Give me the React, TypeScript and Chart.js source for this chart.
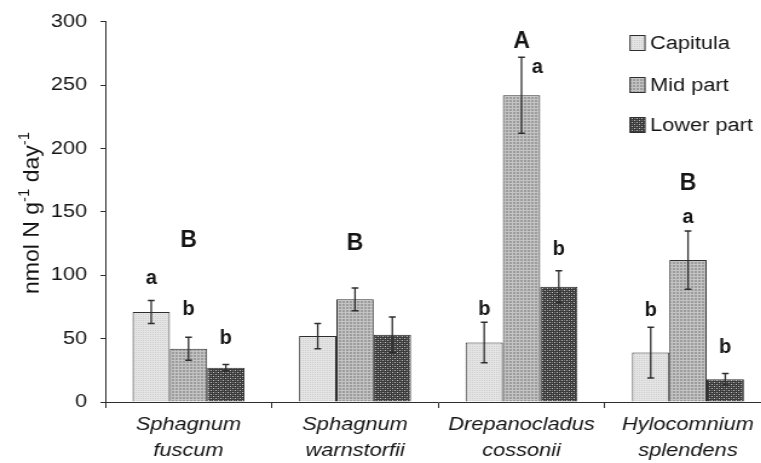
import React, { useEffect, useRef } from "react";
import { Chart, registerables } from "chart.js";

Chart.register(...registerables);

// ---- data ----
const categories = [
  ["Sphagnum", "fuscum"],
  ["Sphagnum", "warnstorfii"],
  ["Drepanocladus", "cossonii"],
  ["Hylocomnium", "splendens"],
];
const seriesNames = ["Capitula", "Mid part", "Lower part"];
const capitula = [71, 52, 47, 39];
const capitulaErr = [9, 10, 16, 20];
const midPart = [42, 81, 242, 112];
const midPartErr = [9, 9, 30, 23];
const lowerPart = [27, 53, 91, 18];
const lowerPartErr = [2.5, 14, 12.5, 4.5];
const capitulaLetters = ["a", "", "b", "b"];
const midPartLetters = ["b", "", "a", "a"];
const lowerPartLetters = ["b", "", "b", "b"];
const groupLetters = ["B", "B", "A", "B"];
const groupLetterLevel = [129, 127, 286, 174];
const yMin = 0;
const yMax = 300;
const yStep = 50;
const yTitle = ["nmol N g", "-1", " day", "-1"];

// ---- annotation layout (pixels) ----
const letterLift = [
  [22, 0, 15, 19],
  [30, 0, -10, 13],
  [28, 0, 23, 28],
];
const letterShift = [
  [0, 0, 0, 0],
  [0, 0, 13, 0],
  [0, 0, 0, 0],
];

const S = 1.21; // horizontal stretch of the original figure
const W = 650;
const H = 463;
const FONT = "'Liberation Sans', Arial, Helvetica, sans-serif";
const TEXT = "#141414";
const LINE = "#2e2e2e";

function makePattern(kind: number): CanvasPattern | string {
  const c = document.createElement("canvas");
  const ctx = c.getContext("2d");
  if (!ctx) return "#999";
  if (kind === 0) {
    c.width = 2; c.height = 2;
    ctx.fillStyle = "#e4e4e4"; ctx.fillRect(0, 0, 2, 2);
    ctx.fillStyle = "#cfcfcf"; ctx.fillRect(0, 0, 1, 1);
  } else if (kind === 1) {
    c.width = 3; c.height = 3;
    ctx.fillStyle = "#9c9c9c"; ctx.fillRect(0, 0, 3, 3);
    ctx.fillStyle = "#c4c4c4"; ctx.fillRect(0, 0, 1, 3); ctx.fillRect(0, 0, 3, 1);
  } else {
    c.width = 4; c.height = 4;
    ctx.fillStyle = "#3a3a3a"; ctx.fillRect(0, 0, 4, 4);
    ctx.fillStyle = "#c4c4c4"; ctx.fillRect(0, 0, 1, 1); ctx.fillRect(2, 2, 1, 1);
    ctx.fillStyle = "#777777"; ctx.fillRect(2, 0, 1, 1); ctx.fillRect(0, 2, 1, 1);
  }
  return ctx.createPattern(c, "repeat") || "#999";
}

export default function App() {
  const ref = useRef<HTMLCanvasElement | null>(null);

  useEffect(() => {
    if (!ref.current) return;
    const fills = [makePattern(0), makePattern(1), makePattern(2)];
    const values = [capitula, midPart, lowerPart];
    const errs = [capitulaErr, midPartErr, lowerPartErr];
    const letters = [capitulaLetters, midPartLetters, lowerPartLetters];

    const overlay = {
      id: "overlay",
      afterDatasetsDraw(chart: any) {
        const ctx = chart.ctx;
        const y = chart.scales.y;
        // error bars
        ctx.save();
        ctx.strokeStyle = LINE;
        for (let i = 0; i < values.length; i++) {
          const meta = chart.getDatasetMeta(i);
          meta.data.forEach((bar: any, j: number) => {
            const v = values[i][j];
            const e = errs[i][j];
            const yt = y.getPixelForValue(v + e);
            const yb = y.getPixelForValue(v - e);
            ctx.lineWidth = 1.3;
            ctx.beginPath();
            ctx.moveTo(bar.x, yt);
            ctx.lineTo(bar.x, yb);
            ctx.stroke();
            ctx.lineWidth = 1.5;
            ctx.beginPath();
            ctx.moveTo(bar.x - 2.8, yt); ctx.lineTo(bar.x + 2.8, yt);
            ctx.moveTo(bar.x - 2.8, yb); ctx.lineTo(bar.x + 2.8, yb);
            ctx.stroke();
          });
        }
        ctx.restore();

        // significance letters
        const drawLetter = (txt: string, cx: number, cy: number, size: number) => {
          ctx.save();
          ctx.font = `bold ${size}px ${FONT}`;
          ctx.fillStyle = TEXT;
          ctx.textAlign = "center";
          ctx.textBaseline = "alphabetic";
          const m = ctx.measureText(txt);
          const asc = m.actualBoundingBoxAscent || size * 0.7;
          ctx.translate(cx, cy);
          ctx.scale(1 / S, 1);
          ctx.fillText(txt, 0, asc / 2);
          ctx.restore();
        };
        for (let i = 0; i < values.length; i++) {
          const meta = chart.getDatasetMeta(i);
          meta.data.forEach((bar: any, j: number) => {
            const t = letters[i][j];
            if (!t) return;
            const yt = y.getPixelForValue(values[i][j] + errs[i][j]);
            drawLetter(t, bar.x + letterShift[i][j], yt - letterLift[i][j], 20);
          });
        }
        const xs = chart.scales.x;
        groupLetters.forEach((t, j) => {
          drawLetter(t, xs.getPixelForValue(j), y.getPixelForValue(groupLetterLevel[j]), 23);
        });
      },
      afterDraw(chart: any) {
        const ctx = chart.ctx;
        const area = chart.chartArea;
        // legend
        ctx.save();
        const lx = 630 / S;
        const rows = [43, 85, 125];
        seriesNames.forEach((name, i) => {
          const cy = rows[i];
          ctx.fillStyle = fills[i];
          ctx.fillRect(lx, cy - 7.5, 15 / S, 15);
          ctx.strokeStyle = LINE;
          ctx.lineWidth = 1;
          ctx.strokeRect(lx, cy - 7.5, 15 / S, 15);
          ctx.fillStyle = TEXT;
          ctx.font = `18px ${FONT}`;
          ctx.textAlign = "left";
          ctx.textBaseline = "middle";
          ctx.fillText(name, 650 / S, cy + 1);
        });
        ctx.restore();

        // y title with superscripts
        ctx.save();
        const main = 23;
        const sup = 15;
        const pieces = yTitle.map((t, k) => ({ t, sup: k % 2 === 1 }));
        let total = 0;
        const widths = pieces.map((p) => {
          ctx.font = `${p.sup ? sup : main}px ${FONT}`;
          const w = ctx.measureText(p.t).width;
          total += w;
          return w;
        });
        const cy = (area.top + area.bottom) / 2 + 1;
        ctx.translate(31 / S, cy);
        ctx.scale(1 / S, 1);
        ctx.rotate(-Math.PI / 2);
        ctx.fillStyle = TEXT;
        ctx.textAlign = "left";
        ctx.textBaseline = "alphabetic";
        let x = -total / 2;
        const base = main * 0.35;
        pieces.forEach((p, k) => {
          ctx.font = `${p.sup ? sup : main}px ${FONT}`;
          ctx.fillText(p.t, x, p.sup ? base - main * 0.42 : base);
          x += widths[k];
        });
        ctx.restore();
      },
    };

    const chart = new Chart(ref.current, {
      type: "bar",
      data: {
        labels: categories,
        datasets: seriesNames.map((name, i) => ({
          label: name,
          data: [capitula, midPart, lowerPart][i],
          backgroundColor: fills[i] as any,
          borderColor: LINE,
          borderWidth: 1,
          barPercentage: 1,
          categoryPercentage: 0.672,
        })),
      },
      options: {
        responsive: false,
        animation: false,
        layout: { padding: { top: 21, right: W - (87 + 4 * 137.6), bottom: 0, left: 0 } },
        plugins: { legend: { display: false }, tooltip: { enabled: false } },
        scales: {
          x: {
            grid: { drawOnChartArea: false, tickLength: 6, color: LINE, offset: true },
            border: { display: true, color: LINE, width: 1 },
            ticks: {
              color: TEXT,
              font: { family: FONT, size: 18, style: "italic", lineHeight: 1.45 },
              padding: 4,
              maxRotation: 0,
              autoSkip: false,
            },
            afterFit: (s: any) => { s.height = 61; },
          },
          y: {
            min: yMin,
            max: yMax,
            grid: { drawOnChartArea: false, tickLength: 4, color: LINE },
            border: { display: true, color: LINE, width: 1 },
            ticks: {
              stepSize: yStep,
              color: TEXT,
              font: { family: FONT, size: 18 },
              padding: 11,
            },
            afterFit: (s: any) => { s.width = 87; },
          },
        },
      },
      plugins: [overlay],
    });
    return () => chart.destroy();
  }, []);

  return (
    <div
      style={{
        position: "fixed",
        left: 0,
        top: 0,
        width: 761,
        height: 463,
        overflow: "hidden",
        background: "#fff",
      }}
    >
      <div style={{ width: W, height: H, transform: `scaleX(${S})`, transformOrigin: "0 0" }}>
        <canvas ref={ref} width={W} height={H} style={{ display: "block", width: W, height: H }} />
      </div>
    </div>
  );
}
